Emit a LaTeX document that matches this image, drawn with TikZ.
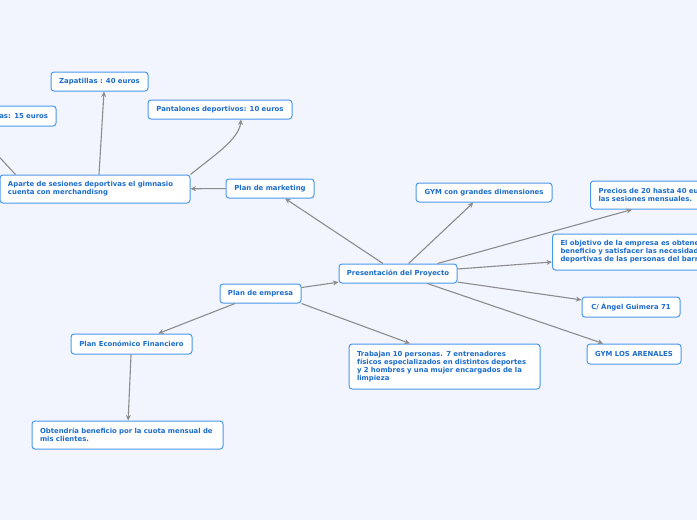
\documentclass[tikz,border=0pt]{standalone}
\usepackage{fontspec}
\setmainfont{DejaVu Sans}
\usetikzlibrary{arrows.meta,calc}
\definecolor{bgc}{HTML}{F2F5FD}
\definecolor{boxc}{HTML}{4A98EC}
\definecolor{txtc}{HTML}{1C6CCC}
\definecolor{arrc}{HTML}{8C8C8C}
\tikzset{
  box/.style={draw=boxc, fill=white, rounded corners=3pt, line width=1pt, inner sep=0pt,
    text=txtc, font=\fontsize{6.9}{8}\selectfont\bfseries, align=center},
  mbox/.style={box, align=left},
  conn/.style={draw=arrc, line width=1.1pt, -{Stealth[length=5.5pt,width=5pt]}},
}
\begin{document}
\begin{tikzpicture}[x=1pt,y=-1pt]
\useasboundingbox (0,0) rectangle (697,520);
\clip (0,0) rectangle (697,520);
\fill[bgc] (0,0) rectangle (697,520);

\node[box, minimum width=97pt, minimum height=19pt] (zap) at (99.5,81.5) {Zapatillas : 40 euros};
\node[box, minimum width=80pt, minimum height=20pt, text width=64pt, align=right] (cam) at (16,116) {as: 15 euros};
\node[box, minimum width=144pt, minimum height=19pt] (pant) at (220,109.5) {Pantalones deportivos: 10 euros};
\node[mbox, minimum width=190pt, minimum height=28pt, text width=174pt] (aparte) at (95,189) {Aparte de sesiones deportivas el gimnasio\\cuenta con merchandisng};
\node[box, minimum width=88pt, minimum height=19pt] (mkt) at (270,188.5) {Plan de marketing};
\node[box, minimum width=136pt, minimum height=19pt] (gymg) at (484,192.5) {GYM con grandes dimensiones};
\node[mbox, anchor=west, minimum width=140pt, minimum height=28pt, text width=124pt] (precios) at (590,195) {Precios de 20 hasta 40 euros\\las sesiones mensuales.};
\node[mbox, anchor=west, minimum width=190pt, minimum height=36pt, text width=174pt] (obj) at (552,252) {El objetivo de la empresa es obtener\\beneficio y satisfacer las necesidades\\deportivas de las personas del barrio};
\node[box, minimum width=118pt, minimum height=19pt] (pres) at (398,273.5) {Presentación del Proyecto};
\node[box, minimum width=81pt, minimum height=19pt] (emp) at (260.5,293.5) {Plan de empresa};
\node[box, minimum width=98pt, minimum height=20pt] (angel) at (631,307) {C/ Ángel Guimera 71};
\node[box, minimum width=94pt, minimum height=20pt] (aren) at (634,354) {GYM LOS ARENALES};
\node[box, minimum width=121pt, minimum height=20pt] (pef) at (131.5,344) {Plan Económico Financiero};
\node[mbox, minimum width=191pt, minimum height=45pt, text width=175pt] (trab) at (444.5,366.5) {Trabajan 10 personas. 7 entrenadores\\físicos especializados en distintos deportes\\y 2 hombres y una mujer encargados de la\\limpieza};
\node[mbox, minimum width=191pt, minimum height=28pt, text width=175pt] (obt) at (127.5,435) {Obtendría beneficio por la cuota mensual de\\mis clientes.};

\draw[conn] (pres) -- (mkt);
\draw[conn] (pres) -- (gymg);
\draw[conn] ($(pres.north east)+(-20,0)$) -- ($(precios.south west)+(42,0)$);
\draw[conn] ($(pres.east)+(0,-4.5)$) -- ($(obj.west)+(0,10)$);
\draw[conn] (pres) -- (angel);
\draw[conn] (pres) -- (aren);
\draw[conn] (emp) -- (pres);
\draw[conn] (emp) -- (pef);
\draw[conn] (emp.south east) -- ($(trab.north)+(-34.5,0)$);
\draw[conn] (pef) -- (obt);
\draw[conn] (mkt) -- (aparte);
\draw[conn] ($(aparte.north)+(4,0)$) -- ($(zap.south)+(4.5,0)$);
\draw[conn] (aparte.north east) .. controls +(22,-18) and +(-2,20) .. ($(pant.south)+(21,0)$);
\draw[conn] ($(aparte.north west)+(16,0)$) -- ($(cam.south)+(-45,0)$);
\end{tikzpicture}
\end{document}
